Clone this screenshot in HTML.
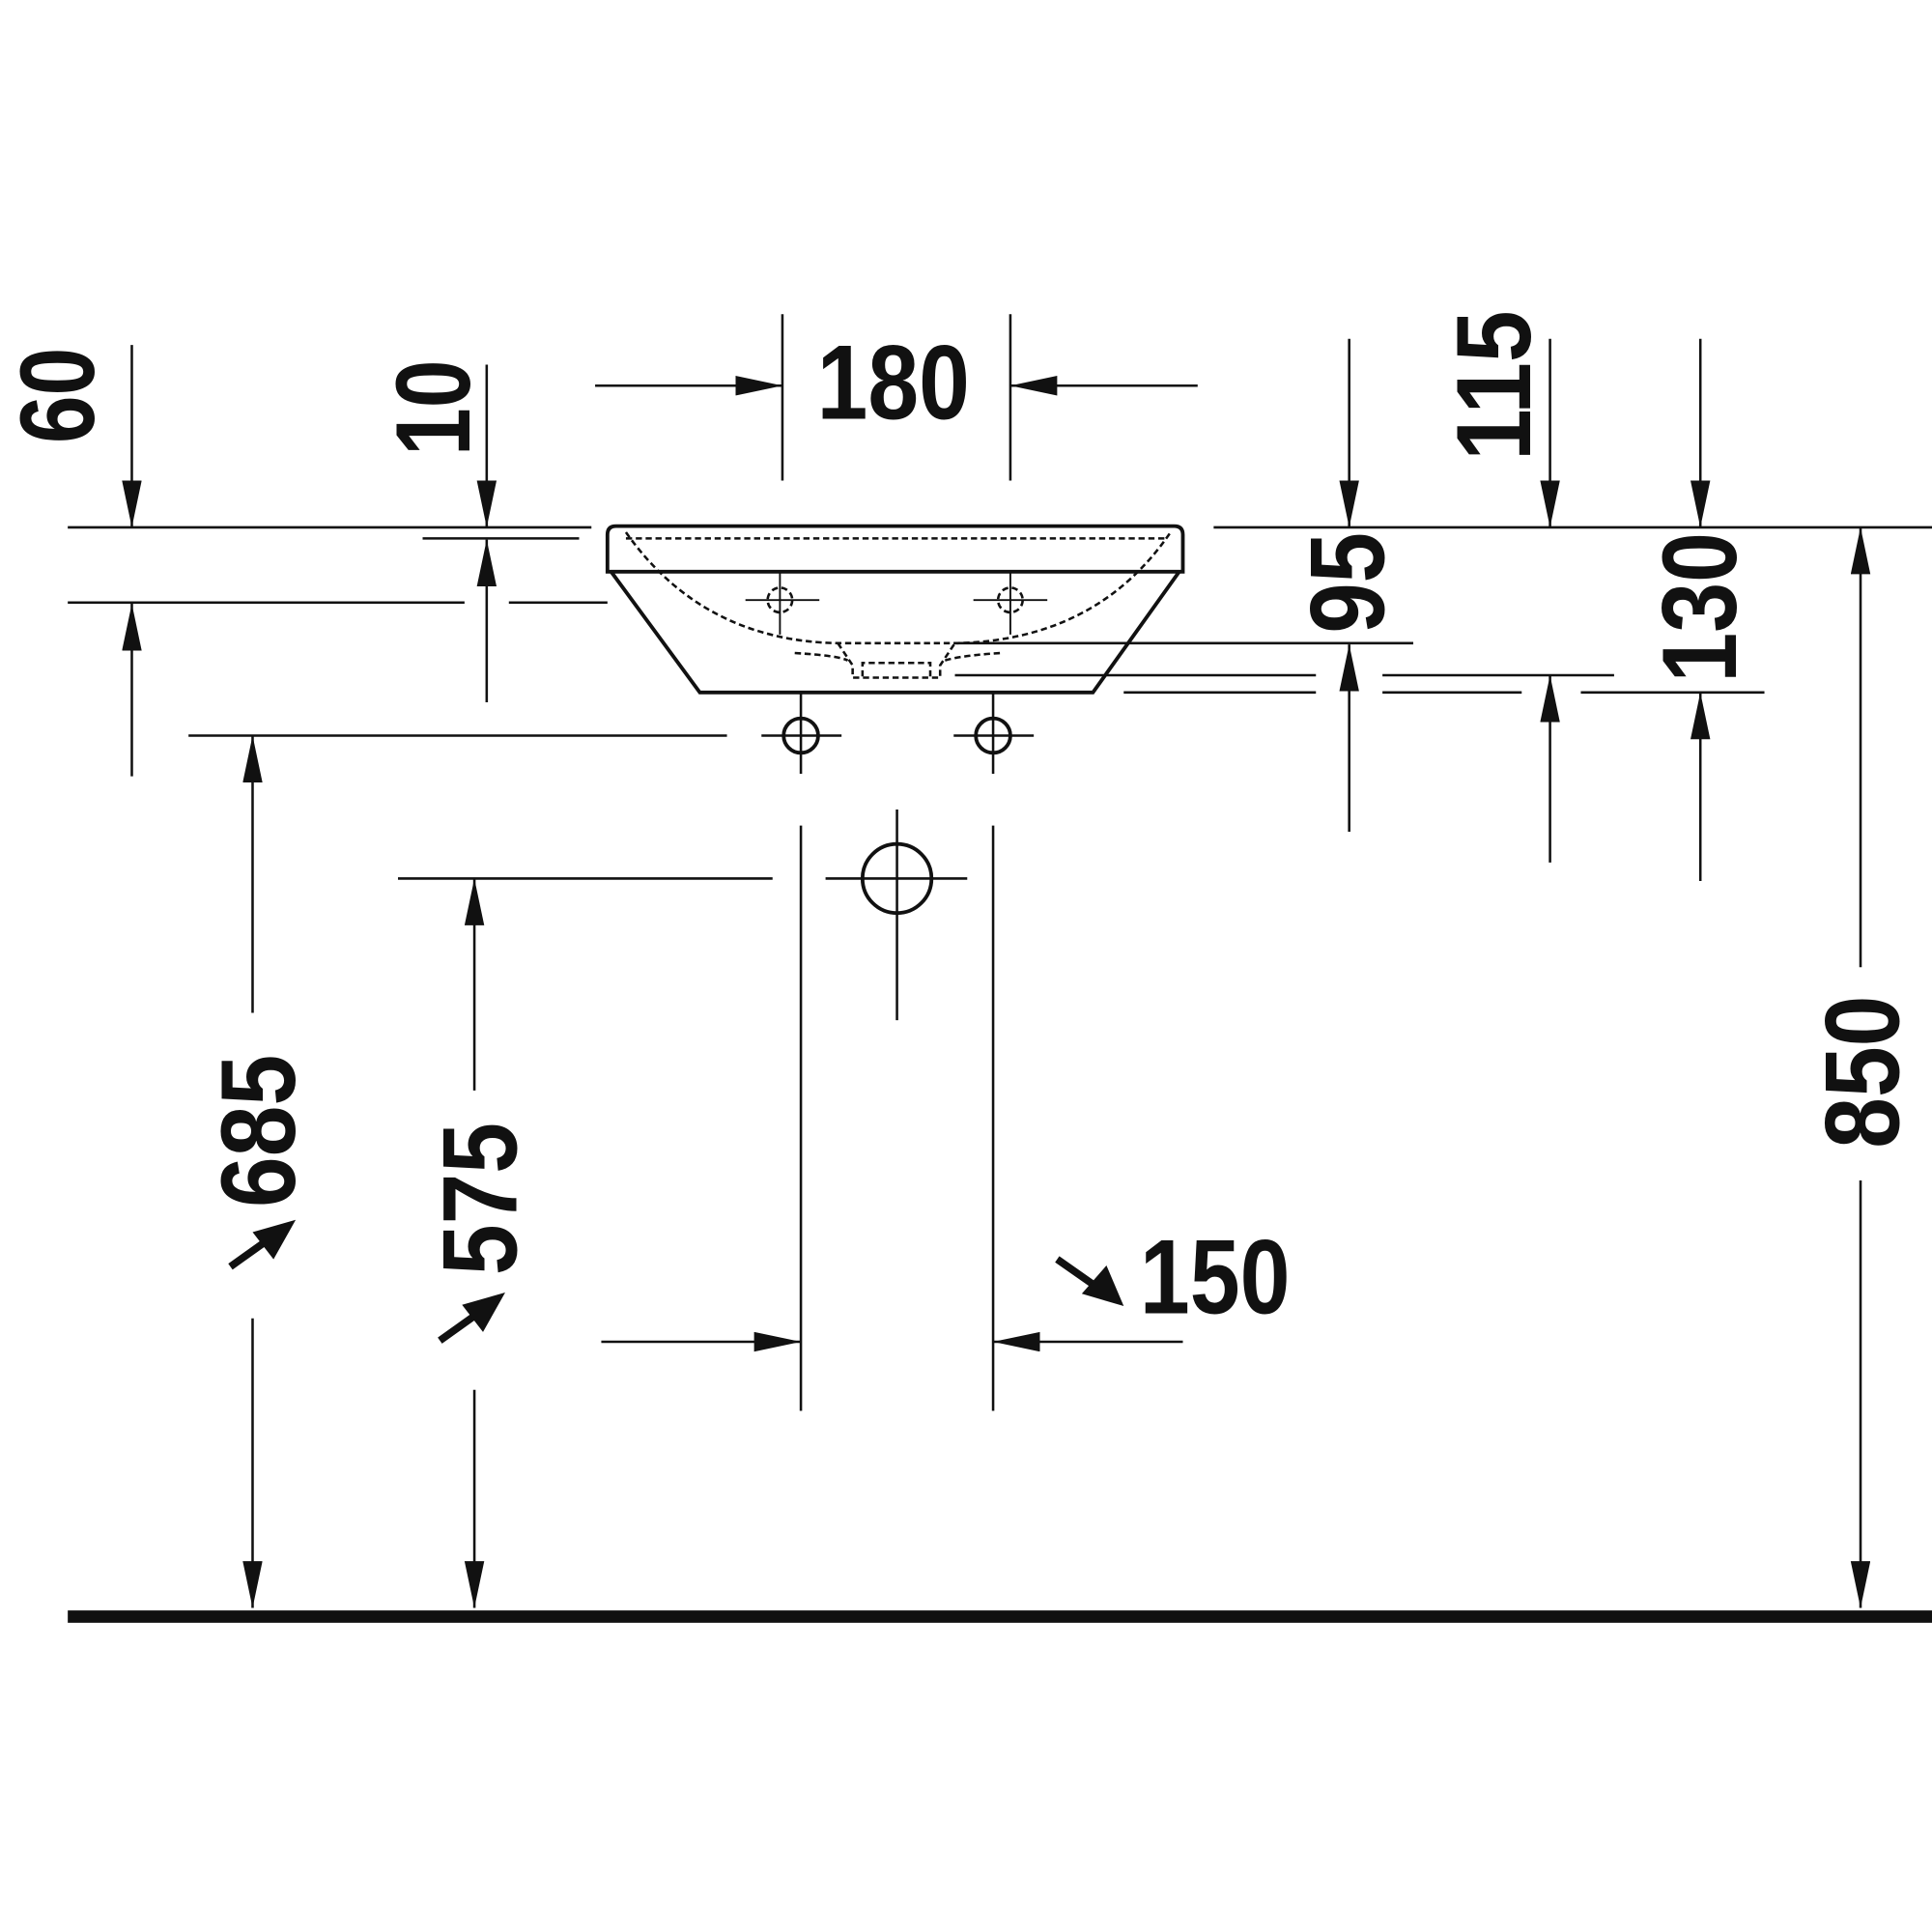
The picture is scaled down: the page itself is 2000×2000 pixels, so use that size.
<!DOCTYPE html>
<html><head><style>html,body{margin:0;padding:0;background:#fff}svg{display:block}
text{font-family:"Liberation Sans Narrow","Liberation Sans",sans-serif;font-weight:bold;font-size:86px;fill:#111}</style></head>
<body>
<svg width="2000" height="2000" viewBox="0 0 1568 1568" xmlns="http://www.w3.org/2000/svg">
<defs>
<marker id="a" markerUnits="userSpaceOnUse" markerWidth="40" markerHeight="20" refX="38" refY="8" orient="auto">
<path d="M0,0 L38,8 L0,16 Z" fill="#111"/></marker>
</defs>
<g stroke="#111" stroke-width="2" fill="none">
<line x1="107" y1="280" x2="107" y2="428" marker-end="url(#a)"/>
<line x1="107" y1="630" x2="107" y2="490" marker-end="url(#a)"/>
<line x1="55" y1="428" x2="480" y2="428"/>
<line x1="55" y1="489" x2="377" y2="489"/>
<line x1="413" y1="489" x2="493" y2="489"/>
<line x1="395" y1="296" x2="395" y2="428" marker-end="url(#a)"/>
<line x1="395" y1="570" x2="395" y2="438" marker-end="url(#a)"/>
<line x1="343" y1="437" x2="470" y2="437"/>
<line x1="635" y1="255" x2="635" y2="390"/>
<line x1="820" y1="255" x2="820" y2="390"/>
<line x1="483" y1="313" x2="635" y2="313" marker-end="url(#a)"/>
<line x1="972" y1="313" x2="820" y2="313" marker-end="url(#a)"/>
<path d="M500,427 L953,427 Q960,427 960,434 L960,464 L493,464 L493,434 Q493,427 500,427 Z" stroke-width="3"/>
<path d="M496,464 L568,562 L887,562 L957,464" stroke-width="3"/>
<g stroke-dasharray="5,3">
<line x1="508" y1="437" x2="945" y2="437"/>
<path d="M508,432 Q570,520 680,522 L775,522 Q890,520 950,432"/>
<path d="M680,522 L692,540 L692,550 L763,550 L763,540 L775,522"/>
<path d="M700,549 L700,538 L755,538 L755,549"/>
<path d="M645,530 Q680,532 688,536"/>
<path d="M767,536 Q780,532 812,530"/>
<circle cx="633" cy="487" r="10"/>
<circle cx="820" cy="487" r="10"/>
</g>
<line x1="605" y1="487" x2="665" y2="487" stroke-width="1.5"/>
<line x1="633" y1="465" x2="633" y2="515" stroke-width="1.5"/>
<line x1="790" y1="487" x2="850" y2="487" stroke-width="1.5"/>
<line x1="820" y1="465" x2="820" y2="515" stroke-width="1.5"/>
<line x1="776" y1="522" x2="1147" y2="522"/>
<line x1="775" y1="548" x2="1068" y2="548"/>
<line x1="1122" y1="548" x2="1310" y2="548"/>
<line x1="912" y1="562" x2="1068" y2="562"/>
<line x1="1122" y1="562" x2="1235" y2="562"/>
<line x1="1283" y1="562" x2="1432" y2="562"/>
<line x1="985" y1="428" x2="1568" y2="428"/>
<line x1="1095" y1="275" x2="1095" y2="428" marker-end="url(#a)"/>
<line x1="1095" y1="675" x2="1095" y2="523" marker-end="url(#a)"/>
<line x1="1258" y1="275" x2="1258" y2="428" marker-end="url(#a)"/>
<line x1="1258" y1="700" x2="1258" y2="548" marker-end="url(#a)"/>
<line x1="1380" y1="275" x2="1380" y2="428" marker-end="url(#a)"/>
<line x1="1380" y1="715" x2="1380" y2="562" marker-end="url(#a)"/>
<line x1="1510" y1="785" x2="1510" y2="428" marker-end="url(#a)"/>
<line x1="1510" y1="958" x2="1510" y2="1305" marker-end="url(#a)"/>
<circle cx="650" cy="597" r="14" stroke-width="3"/>
<circle cx="806" cy="597" r="14" stroke-width="3"/>
<line x1="618" y1="597" x2="683" y2="597"/>
<line x1="650" y1="563" x2="650" y2="628"/>
<line x1="774" y1="597" x2="839" y2="597"/>
<line x1="806" y1="563" x2="806" y2="628"/>
<line x1="153" y1="597" x2="590" y2="597"/>
<line x1="205" y1="822" x2="205" y2="597" marker-end="url(#a)"/>
<line x1="205" y1="1070" x2="205" y2="1305" marker-end="url(#a)"/>
<line x1="385" y1="885" x2="385" y2="713" marker-end="url(#a)"/>
<line x1="385" y1="1128" x2="385" y2="1305" marker-end="url(#a)"/>
<line x1="323" y1="713" x2="627" y2="713"/>
<circle cx="728" cy="713" r="28" stroke-width="3"/>
<line x1="670" y1="713" x2="785" y2="713"/>
<line x1="728" y1="657" x2="728" y2="828"/>
<line x1="650" y1="670" x2="650" y2="1145"/>
<line x1="806" y1="670" x2="806" y2="1145"/>
<line x1="488" y1="1089" x2="650" y2="1089" marker-end="url(#a)"/>
<line x1="960" y1="1089" x2="806" y2="1089" marker-end="url(#a)"/>
<line x1="55" y1="1312" x2="1568" y2="1312" stroke-width="10"/>
<!-- diagonal arrows -->
<line x1="187" y1="1028" x2="215" y2="1008" stroke-width="6"/>
<line x1="357" y1="1088" x2="385" y2="1068" stroke-width="6"/>
<line x1="858" y1="1022" x2="888" y2="1043" stroke-width="6"/>
</g>
<g fill="#111">
<polygon points="240,990 205,1000 222,1022"/>
<polygon points="410,1049 375,1059 392,1081"/>
<polygon points="912,1060 898,1027 878,1050"/>
</g>
<text x="663" y="340" textLength="124" lengthAdjust="spacingAndGlyphs">180</text>
<text x="925" y="1066" textLength="122" lengthAdjust="spacingAndGlyphs">150</text>
<text transform="translate(76,360) rotate(-90)" textLength="78" lengthAdjust="spacingAndGlyphs">60</text>
<text transform="translate(381,370) rotate(-90)" textLength="78" lengthAdjust="spacingAndGlyphs">10</text>
<text transform="translate(1242,374) rotate(-90)" textLength="122" lengthAdjust="spacingAndGlyphs">115</text>
<text transform="translate(1123,514) rotate(-90)" textLength="82" lengthAdjust="spacingAndGlyphs">95</text>
<text transform="translate(1409,554) rotate(-90)" textLength="122" lengthAdjust="spacingAndGlyphs">130</text>
<text transform="translate(239,980) rotate(-90)" textLength="124" lengthAdjust="spacingAndGlyphs">685</text>
<text transform="translate(419,1035) rotate(-90)" textLength="124" lengthAdjust="spacingAndGlyphs">575</text>
<text transform="translate(1541,932) rotate(-90)" textLength="124" lengthAdjust="spacingAndGlyphs">850</text>
</svg>
</body></html>
